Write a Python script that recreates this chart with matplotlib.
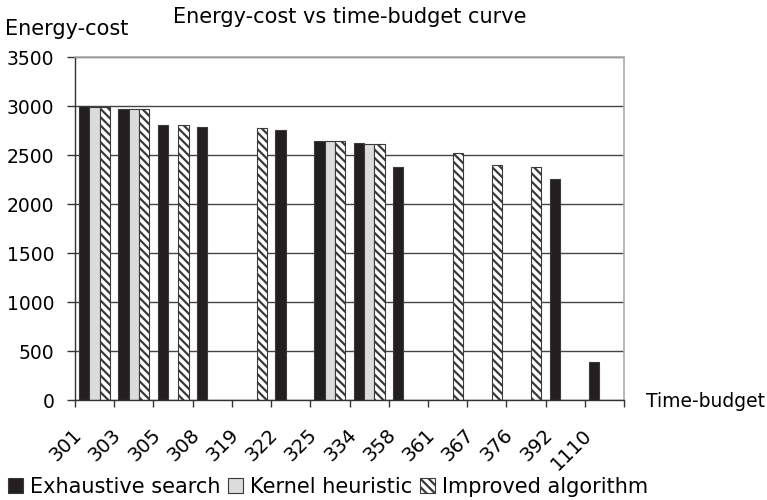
import numpy as np
import matplotlib
matplotlib.use("Agg")
import matplotlib.pyplot as plt

# Time budgets on the x axis (treated as categories)
budgets = ["301", "303", "305", "308", "319", "322", "325",
           "334", "358", "361", "367", "376", "392", "1110"]

# Energy cost per method; nan where a method has no result for that budget
nan = np.nan
exhaustive = [3000, 2968, 2809, 2786, nan, 2761, 2649,
              2626, 2381, nan, nan, nan, 2258, 394]
kernel = [2988, 2968, nan, nan, nan, nan, 2649,
          2615, nan, nan, nan, nan, nan, nan]
improved = [2995, 2968, 2806, nan, 2782, nan, 2649,
            2620, nan, 2527, 2401, 2378, nan, nan]

plt.rcParams["font.family"] = "DejaVu Sans"
plt.rcParams["hatch.linewidth"] = 1.6
plt.rcParams["hatch.color"] = "#231f20"

fig = plt.figure(figsize=(7.67, 5.0), dpi=100)
ax = fig.add_axes([0.0978, 0.1994, 0.7158, 0.686])

x = np.arange(len(budgets))
w = 0.263
edge = "#3a3a3a"
ax.bar(x - w, exhaustive, w, color="#231f20", edgecolor=edge, linewidth=0.8,
       label="Exhaustive search")
ax.bar(x, kernel, w, color="#dcdcdc", edgecolor=edge, linewidth=0.8,
       label="Kernel heuristic")
ax.bar(x + w, improved, w, color="white", edgecolor=edge, linewidth=0.8,
       hatch="\\\\\\\\", label="Improved algorithm")

ax.set_xlim(-0.5, len(budgets) - 0.5)
ax.set_ylim(0, 3500)
ax.set_yticks(np.arange(0, 3501, 500))
ax.yaxis.grid(True, color="#444444", linewidth=1.0)
ax.set_axisbelow(True)

# category boundaries carry the tick marks; the slanted labels end a little
# left of each category centre
ax.set_xticks(x - 0.4)
ax.set_xticks(np.arange(-0.5, len(budgets)), minor=True)
ax.set_xticklabels(budgets, rotation=45, ha="right", va="center",
                   rotation_mode="anchor", fontsize=14)
ax.tick_params(axis="x", which="major", length=0, pad=23)
ax.tick_params(axis="x", which="minor", length=5, width=1.0, color="#333333")
ax.tick_params(axis="y", length=6, width=1.0, color="#333333", pad=9,
               labelsize=13.5)

for side in ("top", "right"):
    ax.spines[side].set_color("#aaaaaa")
    ax.spines[side].set_linewidth(1.2)
for side in ("left", "bottom"):
    ax.spines[side].set_color("#333333")
    ax.spines[side].set_linewidth(1.0)

fig.text(349.5 / 767, 1 - 23 / 500, "Energy-cost vs time-budget curve",
         ha="center", va="baseline", fontsize=15)
fig.text(5 / 767, 1 - 35 / 500, "Energy-cost", ha="left", va="baseline",
         fontsize=15)
fig.text(646 / 767, 1 - 407 / 500, "Time-budget", ha="left", va="baseline",
         fontsize=13.5)

fig.legend(loc="lower left", bbox_to_anchor=(0.0, -0.01), ncol=3,
           frameon=False, fontsize=15, handlelength=0.72,
           handleheight=0.72, handletextpad=0.3, columnspacing=0.4,
           borderaxespad=0.2, borderpad=0.2)

fig.savefig("out.png", dpi=100)
